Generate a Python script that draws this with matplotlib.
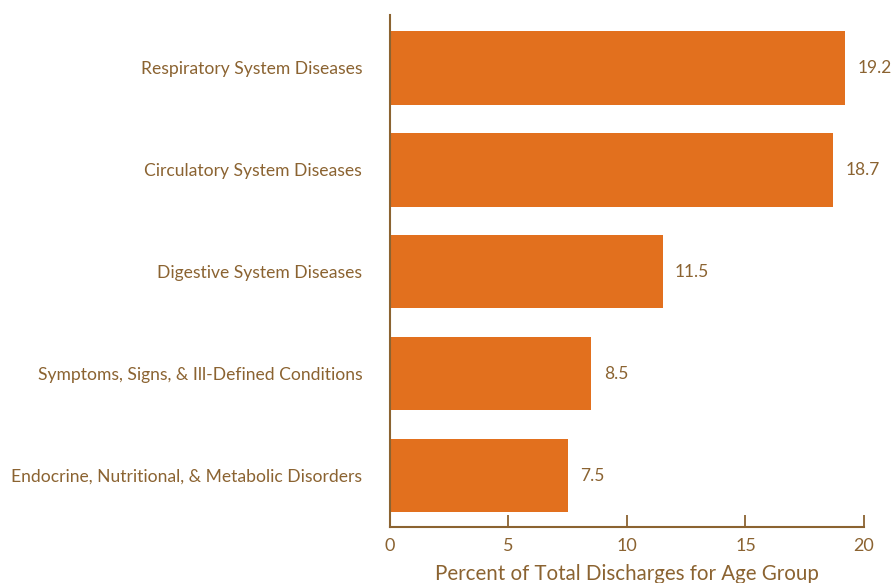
import matplotlib.pyplot as plt

categories = ["Respiratory System Diseases",
              "Circulatory System Diseases",
              "Digestive System Diseases",
              "Symptoms, Signs, & Ill-Defined Conditions",
              "Endocrine, Nutritional, & Metabolic Disorders"]
values = [19.2, 18.7, 11.5, 8.5, 7.5]
xticks = [0, 5, 10, 15, 20]

bar_color = "#E2701E"
text_color = "#8B6331"

plt.rcParams["font.family"] = ["Lato", "DejaVu Sans"]

fig = plt.figure(figsize=(8.94, 5.83), dpi=100)
ax = fig.add_axes([0.4362, 0.0961, 0.5302, 0.8782])

pos = list(range(len(categories)))
ax.barh(pos, values, height=0.72, color=bar_color)

for p, v in zip(pos, values):
    ax.annotate(f"{v}", (v, p), xytext=(9, 0), textcoords="offset points",
                va="center", ha="left", fontsize=12.5, color=text_color)

ax.set_ylim(4.505, -0.52)
ax.set_xlim(0, 20)
ax.set_xticks(xticks)
ax.set_xticklabels([str(t) for t in xticks], fontsize=13, color=text_color)
ax.set_yticks(pos)
ax.set_yticklabels(categories, fontsize=12.6, color=text_color)
ax.tick_params(axis="y", length=0, pad=20)
ax.tick_params(axis="x", length=9, width=1.3, color=text_color, direction="in", pad=8)
ax.set_xlabel("Percent of Total Discharges for Age Group", fontsize=14.8, color=text_color, labelpad=7)

for s in ["top", "right"]:
    ax.spines[s].set_visible(False)
for s in ["left", "bottom"]:
    ax.spines[s].set_color(text_color)
    ax.spines[s].set_linewidth(1.5)

fig.savefig("out.png", dpi=100)
